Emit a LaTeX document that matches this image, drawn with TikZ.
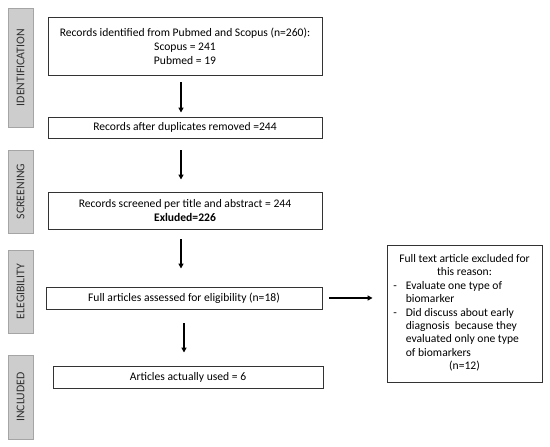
\documentclass[tikz,border=0pt]{standalone}
\usepackage{fontspec}
\setmainfont{Carlito}
\usetikzlibrary{arrows.meta}
\definecolor{sidefill}{RGB}{205,205,205}
\definecolor{sidedraw}{RGB}{165,165,165}
\definecolor{sidetext}{RGB}{48,48,48}
\tikzset{
  mainbox/.style={draw=black!80, line width=0.9pt, fill=white, inner sep=0pt, align=center,
    font=\fontsize{11.6}{14}\selectfont},
  sidebar/.style={draw=sidedraw, line width=0.8pt, fill=sidefill, minimum height=25pt, inner sep=0pt,
    text=sidetext, rotate=90, font=\fontsize{11.8}{13}\selectfont},
  flow/.style={line width=1.2pt, -{Triangle[length=5pt,width=5pt]}}
}
\begin{document}
\begin{tikzpicture}[x=1pt,y=1pt]
\useasboundingbox (0,0) rectangle (550,447);
% side bars
\node[sidebar, minimum width=119pt] (sid) at (20.5,379.5) {IDENTIFICATION};
\node[sidebar, minimum width=83pt] (sscr) at (20.5,255.5) {SCREENING};
\node[sidebar, minimum width=83pt] (sel) at (20.5,155.5) {ELEGIBILITY};
\node[sidebar, minimum width=84pt] (sinc) at (20.5,50) {INCLUDED};
% main boxes
\node[mainbox, minimum width=274pt, minimum height=58pt] (b1) at (185,401)
  {Records identified from Pubmed and Scopus (n=260):\\Scopus = 241\\Pubmed = 19};
\node[mainbox, minimum width=274pt, minimum height=21pt] (b2) at (185,319.5)
  {Records after duplicates removed =244};
\node[mainbox, minimum width=274pt, minimum height=37pt] (b3) at (185,236.5)
  {Records screened per title and abstract = 244\\\textbf{Exluded=226}};
\node[mainbox, minimum width=276pt, minimum height=22pt] (b4) at (184,149)
  {Full articles assessed for eligibility (n=18)};
\node[mainbox, minimum width=270pt, minimum height=22pt] (b5) at (188,70)
  {Articles actually used = 6};
\node[mainbox, minimum width=155pt, minimum height=137pt] (r) at (464.5,133.5)
  {\fontsize{11.6}{13.4}\selectfont
   \begin{tabular}{@{}l@{\hspace{9pt}}l@{}}
   \multicolumn{2}{c}{Full text article excluded for}\\
   \multicolumn{2}{c}{this reason:}\\
   - & Evaluate one type of\\
     & biomarker\\
   - & Did discuss about early\\
     & diagnosis \ because they\\
     & evaluated only one type\\
     & of biomarkers\\
   \multicolumn{2}{c}{(n=12)}
   \end{tabular}};
% arrows
\draw[flow, shorten <=7pt, shorten >=4pt] ([xshift=-4pt]b1.south) -- ([xshift=-4pt]b1.south |- b2.north);
\draw[flow, shorten <=12pt, shorten >=12pt] ([xshift=-4pt]b2.south) -- ([xshift=-4pt]b2.south |- b3.north);
\draw[flow, shorten <=10pt, shorten >=18pt] ([xshift=-4pt]b3.south) -- ([xshift=-4pt]b3.south |- b4.north);
\draw[flow, shorten <=14pt, shorten >=13pt] (b4.south) -- (b4.south |- b5.north);
\draw[flow, shorten <=7pt, shorten >=14pt] (b4.east) -- (b4.east -| r.west);
\end{tikzpicture}
\end{document}
